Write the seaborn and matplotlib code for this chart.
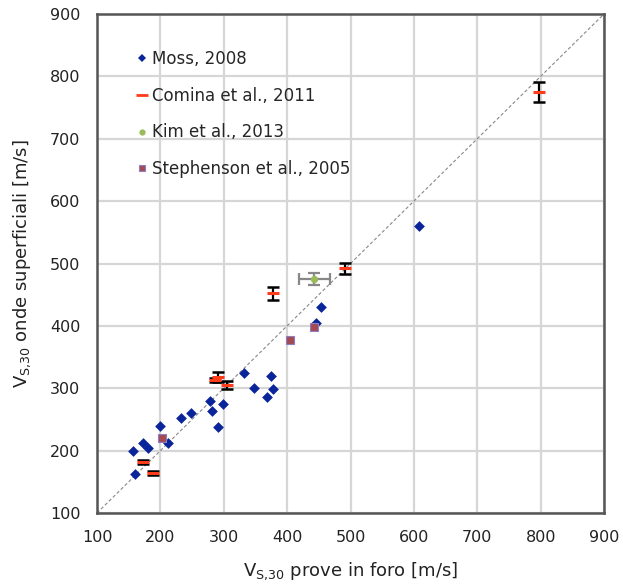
import numpy as np
import pandas as pd
import seaborn as sns
import matplotlib.pyplot as plt
from matplotlib.lines import Line2D

# Moss, 2008
moss_x = [157, 160, 172, 181, 199, 212, 232, 248, 279, 281, 291, 299, 332, 347, 369, 374, 377, 445, 454, 608]
moss_y = [200, 163, 213, 205, 240, 213, 253, 261, 279, 263, 238, 274, 324, 301, 286, 320, 298, 404, 430, 560]

# Comina et al., 2011
comina_x = [172, 189, 286, 291, 305, 377, 492, 797]
comina_y = [182, 164, 313, 318, 305, 452, 492, 775]
comina_err = [3, 3, 3, 8, 7, 10, 9, 16]

# Kim et al., 2013
kim_x = [443]
kim_y = [475]
kim_xerr = [25]
kim_yerr = [10]

# Stephenson et al., 2005
steph_x = [202, 405, 443]
steph_y = [221, 377, 398]

ticks = [100, 200, 300, 400, 500, 600, 700, 800, 900]

sns.set_style("white")
plt.rcParams['font.family'] = ['DejaVu Sans']

fig = plt.figure(figsize=(6.23, 5.86), dpi=100)
ax = fig.add_axes([97 / 623, 1 - 513 / 586, 507 / 623, 499 / 586])

# 1:1 line
ax.plot([100, 900], [100, 900], ls=(0, (3, 2)), color='#888888', lw=0.8, zorder=1)

moss = pd.DataFrame({"x": moss_x, "y": moss_y})
steph = pd.DataFrame({"x": steph_x, "y": steph_y})
kim = pd.DataFrame({"x": kim_x, "y": kim_y})

sns.scatterplot(data=moss, x="x", y="y", marker="D", s=30, color="#0a249a",
                edgecolor="#0a249a", linewidth=0, ax=ax, zorder=3)

ax.errorbar(comina_x, comina_y, yerr=comina_err, fmt='none', ecolor='black',
            elinewidth=1.6, capsize=4, capthick=1.8, zorder=4)
ax.scatter(comina_x, comina_y, marker='_', s=70, color='#ff3b1a', linewidths=2.2, zorder=5)

ax.errorbar(kim_x, kim_y, xerr=kim_xerr, yerr=kim_yerr, fmt='none', ecolor='#888888',
            elinewidth=1.6, capsize=4, capthick=1.6, zorder=4)
sns.scatterplot(data=kim, x="x", y="y", marker="o", s=28, color="#9bbb59",
                linewidth=0, ax=ax, zorder=5)

sns.scatterplot(data=steph, x="x", y="y", marker="s", s=32, color="#a34a55",
                edgecolor="#8f7fc0", linewidth=0.8, ax=ax, zorder=5)

ax.set_xlim(100, 900)
ax.set_ylim(100, 900)
ax.set_xticks(ticks)
ax.set_yticks(ticks)
ax.grid(True, color='#d6d6d6', lw=1.6, zorder=0)
ax.set_axisbelow(True)
for sp in ax.spines.values():
    sp.set_color('#555555')
    sp.set_linewidth(1.8)
ax.tick_params(axis='both', direction='in', length=5, width=1.2, color='#555555',
               labelsize=11.5, labelcolor='#222222')
ax.tick_params(axis='x', pad=12)
ax.tick_params(axis='y', pad=12)

ax.set_xlabel(r'V$_{\mathregular{S{,}30}}$ prove in foro [m/s]', fontsize=13, color='#222222', labelpad=11)
ax.set_ylabel(r'V$_{\mathregular{S{,}30}}$ onde superficiali [m/s]', fontsize=13, color='#222222', labelpad=12)

handles = [
    Line2D([], [], ls='none', marker='D', ms=4.5, color='#0a249a', mew=0),
    Line2D([], [], ls='none', marker='_', ms=8, color='#ff3b1a', mew=2),
    Line2D([], [], ls='none', marker='o', ms=4.5, color='#9bbb59', mew=0),
    Line2D([], [], ls='none', marker='s', ms=4.5, color='#a34a55', mec='#8f7fc0', mew=0.8),
]
labels = ["Moss, 2008", "Comina et al., 2011", "Kim et al., 2013", "Stephenson et al., 2005"]
ax.legend(handles, labels, loc='upper left', bbox_to_anchor=(0.065, 0.941), frameon=False,
          fontsize=12, handlelength=0.6, handletextpad=0.3, labelspacing=1.12,
          borderaxespad=0)

fig.savefig("out.png", dpi=100)
